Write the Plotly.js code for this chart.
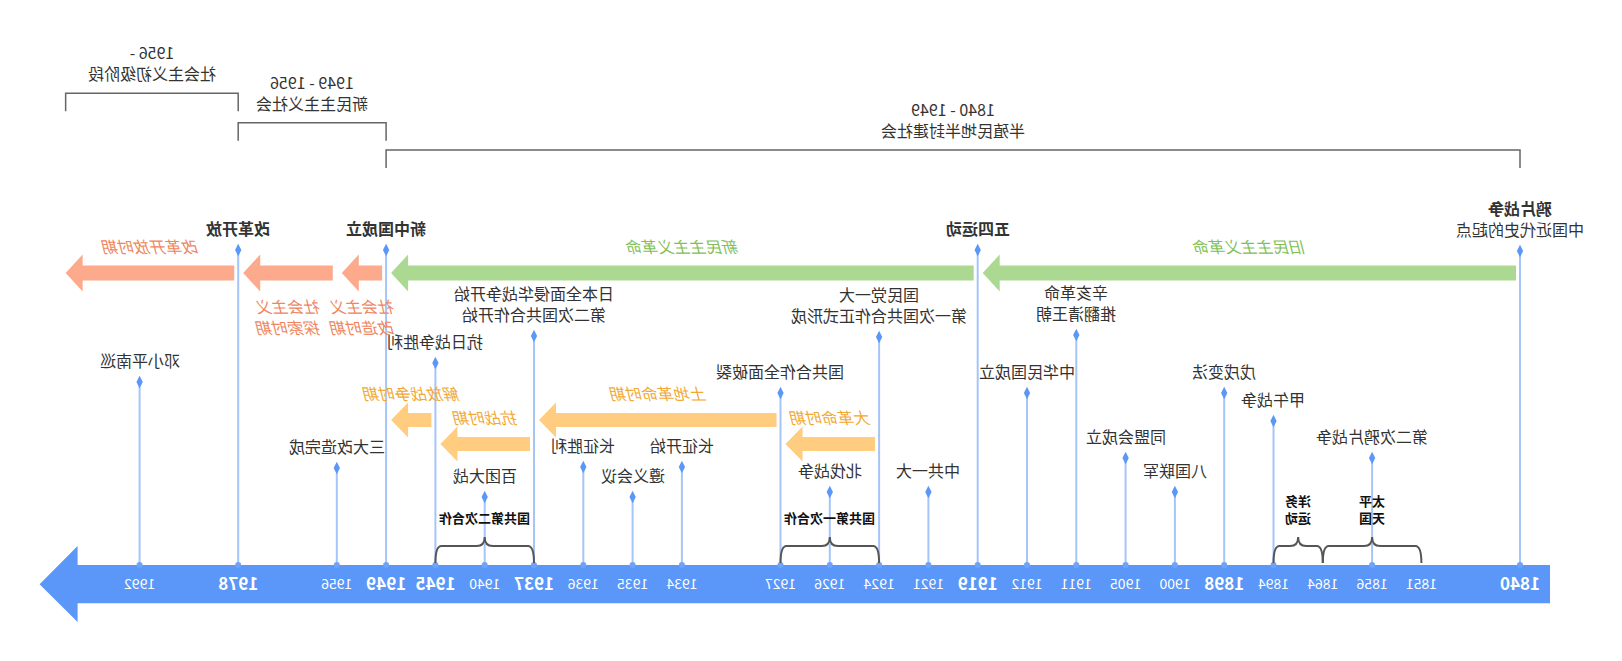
<!DOCTYPE html>
<html>
<head>
<meta charset="utf-8">
<script src="https://cdn.plot.ly/plotly-3.0.1.min.js"></script>
<style>
html,body{margin:0;padding:0;background:#fff;overflow:hidden;}
#chart{width:1622px;height:661px;transform:scaleX(-1);transform-origin:50% 50%;}
</style>
</head>
<body>
<div id="chart"></div>
<script>
// ---------------- data ----------------
const timelineSlots = ['1840','','1851','1856','1864','1894','1898','1900','1905','1911','1912','1919','1921','1924','1926','1927','','1934','1935','1936','1937','1940','1945','1949','1956','','1978','','1992'];
const majorTicks = ['1840','1898','1919','1937','1945','1949','1978'];

const eventYears = ['1840','1856','1894','1898','1900','1905','1911','1912','1919','1921','1924','1926','1927','1934','1935','1936','1937','1940','1945','1949','1956','1978','1992'];
const eventLabels = ['<b>鸦片战争</b><br>中国近代史的起点','第二次鸦片战争','甲午战争','戊戌变法','八国联军','同盟会成立','辛亥革命<br>推翻清王朝','中华民国成立','<b>五四运动</b>','中共一大','国民党一大<br>第一次国共合作正式形成','北伐战争','国共合作全面破裂','长征开始','遵义会议','长征胜利','日本全面侵华战争开始<br>第二次国共合作开始','百团大战','抗日战争胜利','<b>新中国成立</b>','三大改造完成','<b>改革开放</b>','邓小平南巡'];

const periodNames = ['旧民主主义革命','新民主主义革命','社会主义<br>改造时期','社会主义<br>探索时期','改革开放时期','大革命时期','土地革命时期','抗战时期','解放战争时期'];
const periodStart = ['1840','1919','1949','1956','1978','1924','1927','1937','1945'];
const periodEnd = ['1919','1949','1956','1978','now','1927','1937','1945','1949'];
const periodGroup = ['green','green','salmon','salmon','salmon','orangeLow','orangeHigh','orangeLow','orangeHigh'];

const eraNames = ['半殖民地半封建社会','新民主主义社会','社会主义初级阶段'];
const eraSpans = ['1840 - 1949','1949 - 1956','1956 -'];
const eraFrom = ['1840','1949','1978'];
const eraTo = ['1949','1978','now'];

const braceNames = ['太平<br>天国','洋务<br>运动','国共第一次合作','国共第二次合作'];
const braceFrom = ['1851','1864','1924','1937'];
const braceTo = ['1864','1894','1927','1945'];

// ---------------- layout settings ----------------
const W = 1622, H = 661;
const SLOT_PX = 49.3, FIRST_PX = 102;
const r0 = -FIRST_PX / SLOT_PX, r1 = r0 + W / SLOT_PX;
const PX = 1 / SLOT_PX;                 // x data units per pixel
const OPEN_END = timelineSlots.length + 0.5;
const idx = y => y === 'now' ? OPEN_END : timelineSlots.indexOf(y);

const FONT = 'Noto Sans CJK SC, Noto Sans, sans-serif';
const BAND_TOP = 565, BAND_BOT = 603.3, BAND_MID = 584.2;
const eventStemTop = [251,458,421,393,492,458,335,393,250,492,337,492,393,467,497,467,336,497,363,250,468,250,382];
const eraLineY = [150, 122.7, 93.3];
const groupStyle = {
  green:      {fill:'#acd992', text:'#82bf58', yc:273, bh:7.5, hh:18.5, above:true},
  salmon:     {fill:'#fca98c', text:'#ee8660', yc:273, bh:7.5, hh:18.5, above:true},
  orangeHigh: {fill:'#ffcc80', text:'#f1a935', yc:420, bh:7,   hh:17.5, above:true},
  orangeLow:  {fill:'#ffcc80', text:'#f1a935', yc:444, bh:7,   hh:17.5, above:true}
};

// ---------------- shapes ----------------
const shapes = [];
const annotations = [];

// main timeline band with arrow head
(function(){
  const xl = 0 - 30*PX, xb = (timelineSlots.length-1) + 62*PX, xt = (timelineSlots.length-1) + 100*PX;
  shapes.push({type:'path', xref:'x', yref:'y', layer:'below', line:{width:0}, fillcolor:'#5b97f8',
    path:`M${xl},${BAND_TOP} L${xb},${BAND_TOP} L${xb},546 L${xt},${BAND_MID} L${xb},622 L${xb},${BAND_BOT} L${xl},${BAND_BOT} Z`});
})();

// period arrows
periodNames.forEach((name, i) => {
  const st = groupStyle[periodGroup[i]];
  const xs = idx(periodStart[i]) + 4*PX;
  const xe = idx(periodEnd[i]) - (periodEnd[i]==='now' ? 0 : 5*PX);
  const hl = 17*PX, y = st.yc;
  shapes.push({type:'path', xref:'x', yref:'y', layer:'below', line:{width:0}, fillcolor:st.fill,
    path:`M${xs},${y-st.bh} L${xe-hl},${y-st.bh} L${xe-hl},${y-st.hh} L${xe},${y} L${xe-hl},${y+st.hh} L${xe-hl},${y+st.bh} L${xs},${y+st.bh} Z`});
  const below = name.indexOf('<br>') >= 0;
  annotations.push({xref:'x', yref:'y', x:(xs+xe)/2, y: below ? y+19 : y-13,
    yanchor: below ? 'top' : 'bottom', xanchor:'center', showarrow:false,
    text:'<i>'+name+'</i>', font:{family:FONT, size:16, color:st.text}});
});

// era brackets at top
eraNames.forEach((name, i) => {
  const a = idx(eraFrom[i]), b = idx(eraTo[i]), y = eraLineY[i];
  shapes.push({type:'path', xref:'x', yref:'y', line:{color:'#666', width:1.5},
    path:`M${a},${y+18} L${a},${y} L${b},${y} L${b},${y+18}`});
  annotations.push({xref:'x', yref:'y', x:(a+b)/2, y:y-6, yanchor:'bottom', xanchor:'center', showarrow:false,
    text: eraSpans[i]+'<br>'+name, font:{family:FONT, size:16, color:'#333'}});
});

// curly braces near the band
braceNames.forEach((name, i) => {
  const a = idx(braceFrom[i]), b = idx(braceTo[i]), m = (a+b)/2;
  const d = 6*PX, e = 8*PX, yl = 546, ye = 563, yp = 537;
  shapes.push({type:'path', xref:'x', yref:'y', line:{color:'#555', width:2},
    path:`M${a},${ye} Q${a},${yl} ${a+d},${yl} L${m-e},${yl} Q${m},${yl} ${m},${yp} Q${m},${yl} ${m+e},${yl} L${b-d},${yl} Q${b},${yl} ${b},${ye}`});
  annotations.push({xref:'x', yref:'y', x:m, y:yp-8, yanchor:'bottom', xanchor:'center', showarrow:false,
    text:'<b>'+name+'</b>', font:{family:FONT, size:13, color:'#111'}});
});

// event labels
eventYears.forEach((yr, i) => {
  annotations.push({xref:'x', yref:'y', x:idx(yr), y:eventStemTop[i]-8, yanchor:'bottom', xanchor:'center', showarrow:false,
    text:eventLabels[i], font:{family:FONT, size:16, color:'#333'}});
});

// ---------------- traces ----------------
const stemX = [], stemY = [];
eventYears.forEach((yr, i) => { stemX.push(idx(yr), idx(yr), null); stemY.push(BAND_TOP, eventStemTop[i], null); });

const minorYears = timelineSlots.filter(s => s && majorTicks.indexOf(s) < 0);

const traces = [
  {type:'scatter', mode:'lines', x:stemX, y:stemY, line:{color:'#a5c4f8', width:2}, hoverinfo:'skip'},
  {type:'scatter', mode:'markers', x:eventYears.map(idx), y:eventYears.map(()=>BAND_TOP),
    marker:{symbol:'circle', size:6, color:'#6fa3f7'}, hoverinfo:'skip'},
  {type:'scatter', mode:'markers', x:eventYears.map(idx), y:eventStemTop,
    marker:{symbol:'diamond-tall', size:9, color:'#5b97f8'}, hoverinfo:'skip'},
  {type:'scatter', mode:'text', x:minorYears.map(idx), y:minorYears.map(()=>BAND_MID+1.3), text:minorYears,
    textposition:'middle center', textfont:{family:FONT, size:14, color:'#ffffff'}, hoverinfo:'skip'},
  {type:'scatter', mode:'text', x:majorTicks.map(idx), y:majorTicks.map(()=>BAND_MID+1.3), text:majorTicks.map(t=>'<b>'+t+'</b>'),
    textposition:'middle center', textfont:{family:FONT, size:17, color:'#ffffff'}, hoverinfo:'skip'}
];

const layout = {
  width: W, height: H,
  margin: {l:0, r:0, t:0, b:0, pad:0},
  paper_bgcolor:'#ffffff', plot_bgcolor:'#ffffff',
  showlegend:false,
  xaxis:{range:[r0, r1], visible:false, fixedrange:true},
  yaxis:{range:[H, 0], visible:false, fixedrange:true},
  shapes: shapes,
  annotations: annotations
};

Plotly.newPlot('chart', traces, layout, {displayModeBar:false, staticPlot:true});
</script>
</body>
</html>
